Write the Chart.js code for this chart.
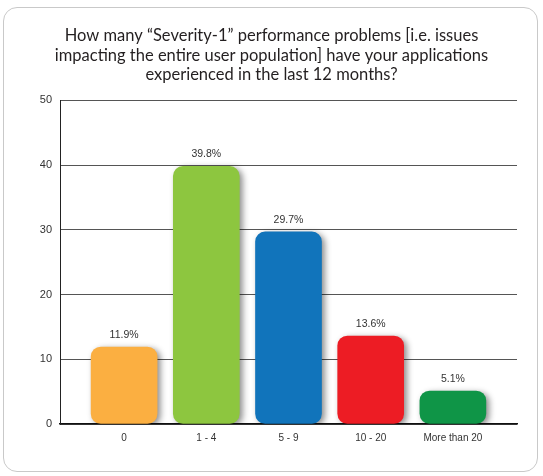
<!DOCTYPE html>
<html>
<head>
<meta charset="utf-8">
<script src="https://cdn.jsdelivr.net/npm/chart.js@4.4.1/dist/chart.umd.min.js"></script>
<style>
  html, body { margin: 0; padding: 0; background: #fff; }
  #frame { position: absolute; left: 3px; top: 7px; width: 535px; height: 465px;
           border: 1.5px solid #c9c9c9; border-radius: 14px; box-sizing: border-box; }
  #wrap { position: absolute; left: 0; top: 0; width: 543px; height: 476px; }
</style>
</head>
<body>
<div id="frame"></div>
<div id="wrap"><canvas id="c" width="543" height="476"></canvas></div>
<script>
const titleLines = [
  'How many \u201cSeverity-1\u201d performance problems [i.e. issues',
  'impacting the entire user population] have your applications',
  'experienced in the last 12 months?'
];
const categories = ['0', '1 - 4', '5 - 9', '10 - 20', 'More than 20'];
const values = [11.9, 39.8, 29.7, 13.6, 5.1];
const valueLabels = ['11.9%', '39.8%', '29.7%', '13.6%', '5.1%'];
const barColors = ['#FBAF41', '#8DC63F', '#1174BB', '#ED1C24', '#0F9547'];
const yTicks = [0, 10, 20, 30, 40, 50];

const shadowPlugin = {
  id: 'barShadow',
  beforeDatasetDraw(chart) {
    const ctx = chart.ctx;
    ctx.save();
    ctx.shadowColor = 'rgba(0,0,0,0.45)';
    ctx.shadowBlur = 6;
    ctx.shadowOffsetX = 3;
    ctx.shadowOffsetY = 2;
  },
  afterDatasetDraw(chart) {
    chart.ctx.restore();
  }
};

const labelPlugin = {
  id: 'valueLabels',
  afterDatasetsDraw(chart) {
    const ctx = chart.ctx;
    const meta = chart.getDatasetMeta(0);
    ctx.save();
    ctx.font = '10.5px "Liberation Sans", Arial, sans-serif';
    ctx.fillStyle = '#333';
    ctx.textAlign = 'center';
    ctx.textBaseline = 'middle';
    meta.data.forEach((bar, i) => {
      ctx.fillText(valueLabels[i], bar.x, bar.y - 12);
    });
    ctx.restore();
  }
};

new Chart(document.getElementById('c'), {
  type: 'bar',
  data: {
    datasets: [{
      data: values.map((v, i) => ({ x: i, y: v })),
      backgroundColor: barColors,
      borderWidth: 0,
      borderRadius: 10,
      borderSkipped: false,
      barThickness: 66
    }]
  },
  options: {
    responsive: false,
    animation: false,
    layout: { padding: { left: 0, right: 0, top: 0, bottom: 0 } },
    plugins: {
      legend: { display: false },
      tooltip: { enabled: false },
      title: {
        display: true,
        text: titleLines,
        color: '#231F20',
        font: { family: 'Lato, "Open Sans", sans-serif', size: 16.5, weight: 'normal', lineHeight: 1.18 },
        padding: { top: 26, bottom: 16 }
      }
    },
    scales: {
      x: {
        type: 'linear',
        offset: false,
        min: -0.78,
        max: 4.78,
        afterBuildTicks(scale) { scale.ticks = categories.map((_, i) => ({ value: i })); },
        afterFit(scale) { scale.height = 52; },
        ticks: {
          callback: (v) => categories[v] ?? '',
          color: '#333',
          font: { family: '"Liberation Sans", Arial, sans-serif', size: 10 },
          padding: 8,
          maxRotation: 0,
          autoSkip: false
        },
        grid: { display: false, drawTicks: false, offset: false },
        border: { color: '#111', width: 1.5 }
      },
      y: {
        min: 0,
        max: 50,
        afterBuildTicks(scale) { scale.ticks = yTicks.map(v => ({ value: v })); },
        afterFit(scale) { scale.width = 60; },
        ticks: {
          color: '#333',
          font: { family: '"Liberation Sans", Arial, sans-serif', size: 11 },
          padding: 8
        },
        grid: { color: '#555', lineWidth: 1, drawTicks: false },
        border: { color: '#222', width: 1 }
      },
      ySpacer: {
        position: 'right',
        min: 0,
        max: 50,
        afterFit(scale) { scale.width = 26; },
        ticks: { display: false },
        grid: { display: false, drawTicks: false },
        border: { display: false }
      }
    }
  },
  plugins: [shadowPlugin, labelPlugin]
});
</script>
</body>
</html>
